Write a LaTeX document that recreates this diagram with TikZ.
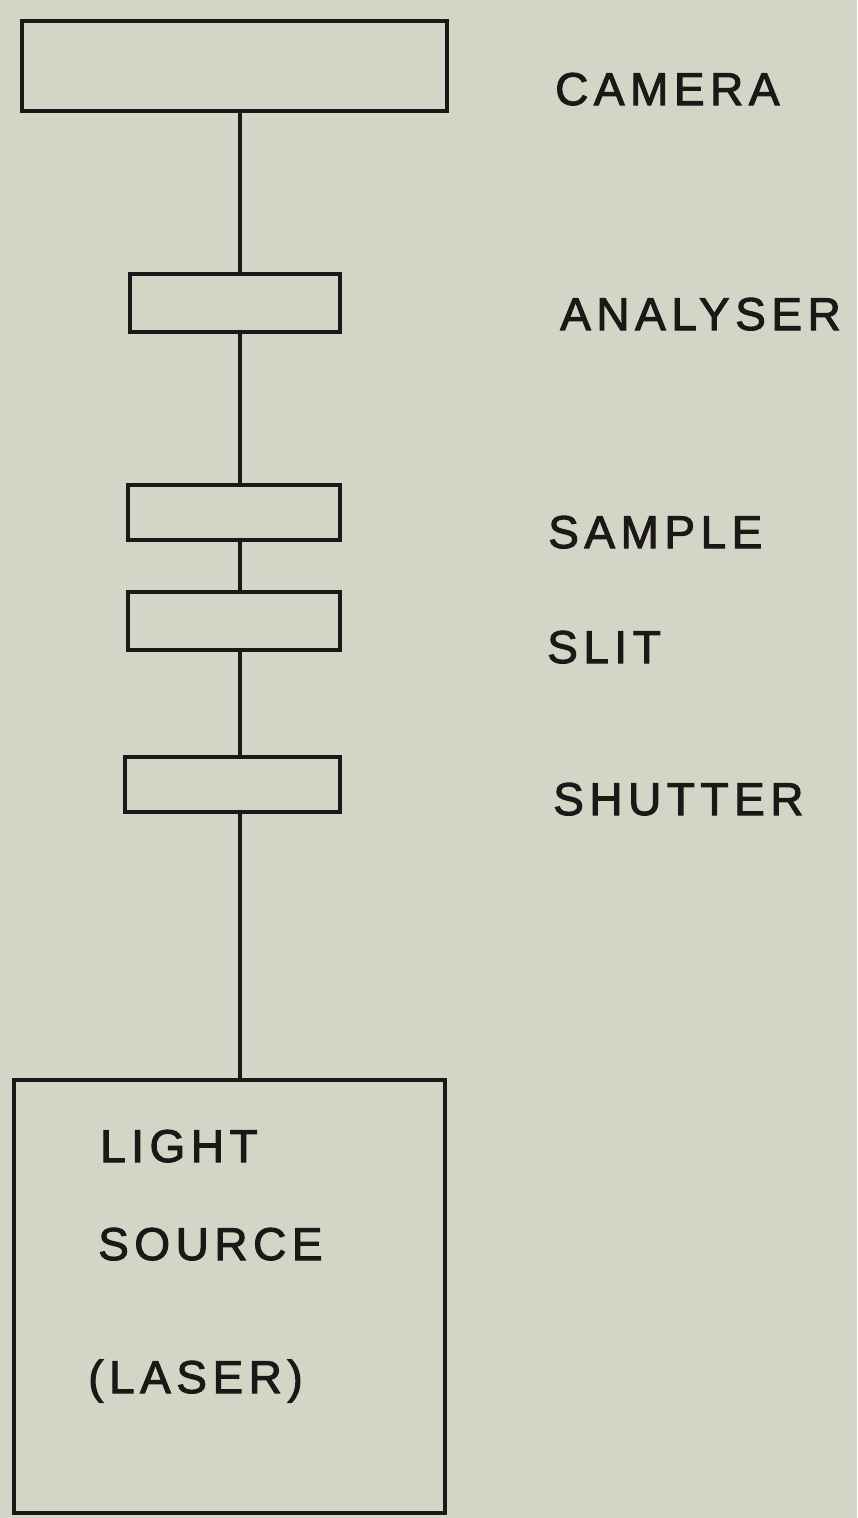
\documentclass[tikz,border=0pt]{standalone}
\usepackage{fontspec}
\newfontfamily\lblfont[LetterSpace=12,FakeBold=2.2]{Liberation Sans}
\definecolor{paper}{RGB}{211,213,199}
\definecolor{ink}{RGB}{28,24,24}
\begin{document}
\begin{tikzpicture}[x=1pt,y=-1pt,
  part/.style={draw=ink,line width=4.2pt,rectangle,inner sep=0pt},
  lbl/.style={anchor=base west,inner sep=0pt,text=ink,font=\lblfont\fontsize{46}{50}\selectfont},
  beam/.style={draw=ink,line width=4pt}]
\fill[paper] (0,0) rectangle (857,1518);
\useasboundingbox (0,0) rectangle (857,1518);
\coordinate (lx) at (240,0);
\node[part,minimum width=425pt,minimum height=90pt] (camera) at (234.5,66) {};
\node[part,minimum width=210pt,minimum height=58pt] (analyser) at (235,303) {};
\node[part,minimum width=212pt,minimum height=55pt] (sample) at (234,512.5) {};
\node[part,minimum width=212pt,minimum height=58pt] (slit) at (234,621) {};
\node[part,minimum width=215pt,minimum height=55pt] (shutter) at (232.5,784.5) {};
\node[part,minimum width=431pt,minimum height=433pt] (light) at (229.5,1296.5) {};
\draw[beam] (camera.south -| lx) -- (analyser.north -| lx);
\draw[beam] (analyser.south -| lx) -- (sample.north -| lx);
\draw[beam] (sample.south -| lx) -- (slit.north -| lx);
\draw[beam] (slit.south -| lx) -- (shutter.north -| lx);
\draw[beam] (shutter.south -| lx) -- (light.north -| lx);
\node[lbl] (tcamera) at (555,105) {CAMERA};
\node[lbl] (tanalyser) at (560,330) {ANALYSER};
\node[lbl] (tsample) at (548,548) {SAMPLE};
\node[lbl] (tslit) at (547,663) {SLIT};
\node[lbl] (tshutter) at (553,815) {SHUTTER};
\node[lbl] (tlight) at (100,1162) {LIGHT};
\node[lbl] (tsource) at (98,1260) {SOURCE};
\node[lbl] (tlaser) at (88,1393) {(LASER)};
\end{tikzpicture}
\end{document}
